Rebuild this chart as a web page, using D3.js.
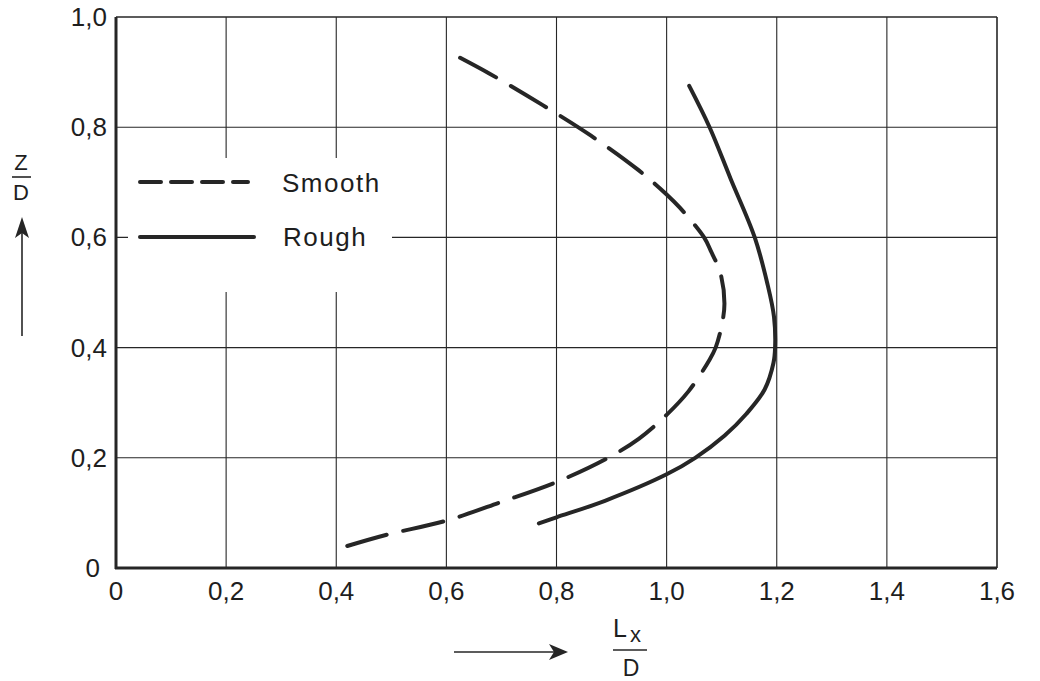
<!DOCTYPE html>
<meta charset="utf-8">
<script src="https://d3js.org/d3.v7.min.js"></script>
<style>
  body { margin: 0; background: #fff; }
  text { font-family: "Liberation Sans", Arial, sans-serif; fill: #1e1e1e; }
</style>
<div id="chart"></div>
<script>
// tick values
var xTicks = [0, 0.2, 0.4, 0.6, 0.8, 1.0, 1.2, 1.4, 1.6];
var yTicks = [0, 0.2, 0.4, 0.6, 0.8, 1.0];

// Smooth (dashed) curve, read from bottom end to top end
var smoothX = [0.42, 0.49, 0.60, 0.70, 0.80, 0.89, 0.95, 1.00, 1.04, 1.078, 1.089, 1.100, 1.105, 1.098, 1.080, 1.068, 1.024, 1.000, 0.949, 0.862, 0.775, 0.677, 0.604];
var smoothZ = [0.040, 0.060, 0.086, 0.120, 0.156, 0.198, 0.235, 0.278, 0.321, 0.378, 0.400, 0.440, 0.480, 0.534, 0.576, 0.600, 0.654, 0.678, 0.722, 0.785, 0.840, 0.898, 0.937];

// Rough (solid) curve
var roughX = [0.768, 0.800, 0.888, 1.000, 1.052, 1.105, 1.145, 1.178, 1.194, 1.197, 1.195, 1.183, 1.160, 1.116, 1.078, 1.041];
var roughZ = [0.081, 0.092, 0.122, 0.170, 0.200, 0.240, 0.280, 0.324, 0.372, 0.400, 0.456, 0.516, 0.600, 0.707, 0.800, 0.875];

var W = 1040, H = 681;
var ink = "#262626";

var svg = d3.select("#chart").append("svg")
    .attr("width", W)
    .attr("height", H);

var x = d3.scaleLinear().domain([0, 1.6]).range([116, 997]);
var y = d3.scaleLinear().domain([0, 1.0]).range([568, 17]);

var fmt = function(v) { return v === 0 ? "0" : d3.format(".1f")(v).replace(".", ","); };

// grid
svg.append("g").selectAll("line.v")
  .data(xTicks.slice(1))
  .join("line")
    .attr("x1", d => x(d)).attr("x2", d => x(d))
    .attr("y1", y(0)).attr("y2", y(1))
    .attr("stroke", ink).attr("stroke-width", d => d === 1.6 ? 1.6 : 1.1);

svg.append("g").selectAll("line.h")
  .data(yTicks.slice(1))
  .join("line")
    .attr("x1", x(0)).attr("x2", x(1.6))
    .attr("y1", d => y(d)).attr("y2", d => y(d))
    .attr("stroke", ink).attr("stroke-width", d => d === 1.0 ? 1.6 : 1.1);

// blank patch behind the legend
svg.append("rect")
    .attr("x", 128).attr("y", 158)
    .attr("width", 264).attr("height", 134)
    .attr("fill", "#fff");

// main axis lines (left and bottom, heavier)
svg.append("line")
    .attr("x1", x(0)).attr("x2", x(0)).attr("y1", y(0) + 1).attr("y2", y(1))
    .attr("stroke", ink).attr("stroke-width", 3);
svg.append("line")
    .attr("x1", x(0) - 1).attr("x2", x(1.6)).attr("y1", y(0)).attr("y2", y(0))
    .attr("stroke", ink).attr("stroke-width", 3);

// tick labels
svg.append("g").selectAll("text")
  .data(xTicks)
  .join("text")
    .attr("x", d => x(d)).attr("y", 600)
    .attr("text-anchor", "middle")
    .attr("font-size", 26)
    .text(fmt);

svg.append("g").selectAll("text")
  .data(yTicks)
  .join("text")
    .attr("x", d => d === 0 ? 100 : 107)
    .attr("y", d => y(d) + 9)
    .attr("text-anchor", "end")
    .attr("font-size", 26)
    .text(fmt);

// curves
var line = d3.line()
    .x(d => x(d[0]))
    .y(d => y(d[1]))
    .curve(d3.curveCatmullRom.alpha(0.5));

svg.append("path")
    .datum(d3.zip(smoothX, smoothZ))
    .attr("d", line)
    .attr("fill", "none")
    .attr("stroke", ink)
    .attr("stroke-width", 4)
    .attr("stroke-linecap", "round")
    .attr("stroke-dasharray", "41,17");

svg.append("path")
    .datum(d3.zip(roughX, roughZ))
    .attr("d", line)
    .attr("fill", "none")
    .attr("stroke", ink)
    .attr("stroke-width", 4)
    .attr("stroke-linecap", "round");

// legend
svg.append("line")
    .attr("x1", 140).attr("x2", 248).attr("y1", 182).attr("y2", 182)
    .attr("stroke", ink).attr("stroke-width", 4)
    .attr("stroke-linecap", "round")
    .attr("stroke-dasharray", "21,10");
svg.append("text")
    .attr("x", 282).attr("y", 192)
    .attr("font-size", 26).attr("letter-spacing", 1.5)
    .text("Smooth");

svg.append("line")
    .attr("x1", 140).attr("x2", 254).attr("y1", 237).attr("y2", 237)
    .attr("stroke", ink).attr("stroke-width", 4)
    .attr("stroke-linecap", "round");
svg.append("text")
    .attr("x", 283).attr("y", 246)
    .attr("font-size", 26).attr("letter-spacing", 1.5)
    .text("Rough");

// y axis title: Z over D with arrow
svg.append("text")
    .attr("x", 21).attr("y", 170)
    .attr("text-anchor", "middle").attr("font-size", 22)
    .text("Z");
svg.append("line")
    .attr("x1", 12).attr("x2", 31).attr("y1", 177).attr("y2", 177)
    .attr("stroke", ink).attr("stroke-width", 1.6);
svg.append("text")
    .attr("x", 21).attr("y", 200)
    .attr("text-anchor", "middle").attr("font-size", 22)
    .text("D");
svg.append("line")
    .attr("x1", 22).attr("x2", 22).attr("y1", 336).attr("y2", 228)
    .attr("stroke", ink).attr("stroke-width", 1.6);
svg.append("path")
    .attr("d", "M22,217 L15,238 L22,233 L29,238 Z")
    .attr("fill", ink);

// x axis title: arrow then Lx over D
svg.append("line")
    .attr("x1", 454).attr("x2", 558).attr("y1", 652).attr("y2", 652)
    .attr("stroke", ink).attr("stroke-width", 1.6);
svg.append("path")
    .attr("d", "M568,652 L549,644 L554,652 L549,660 Z")
    .attr("fill", ink);
svg.append("text")
    .attr("x", 613).attr("y", 637)
    .attr("font-size", 25)
    .text("L");
svg.append("text")
    .attr("x", 630).attr("y", 642)
    .attr("font-size", 22)
    .text("x");
svg.append("line")
    .attr("x1", 613).attr("x2", 647).attr("y1", 650).attr("y2", 650)
    .attr("stroke", ink).attr("stroke-width", 1.6);
svg.append("text")
    .attr("x", 631).attr("y", 676)
    .attr("text-anchor", "middle").attr("font-size", 23)
    .text("D");
</script>
